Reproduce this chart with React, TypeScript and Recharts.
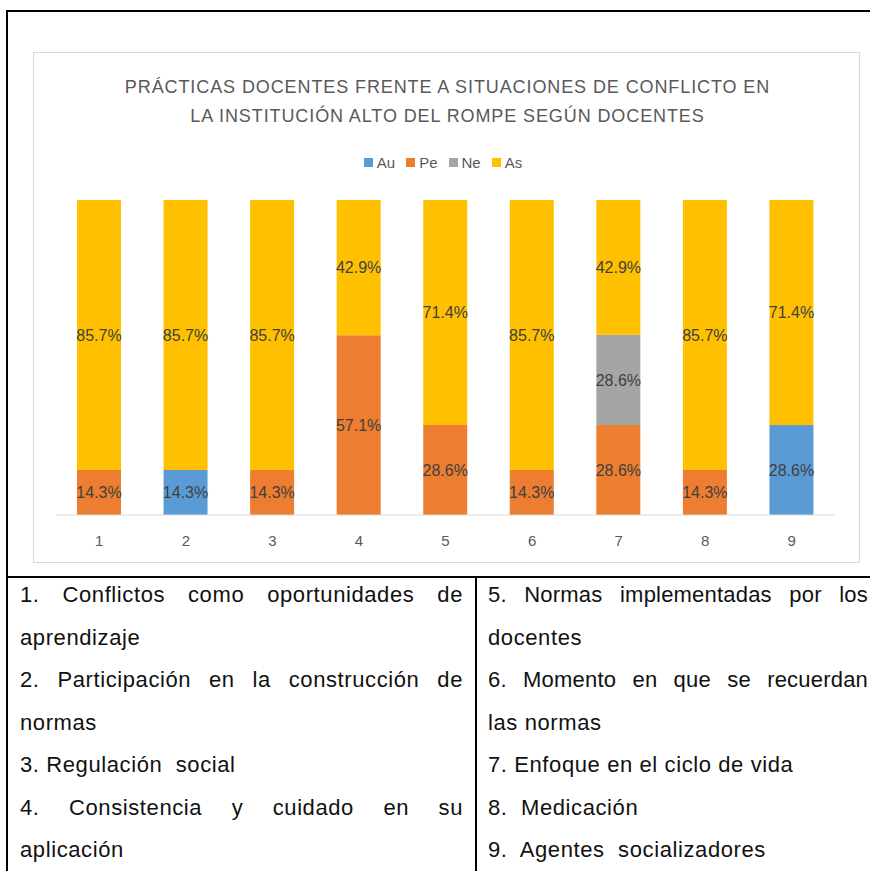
import React from 'react';
import { BarChart, Bar, XAxis, YAxis, Legend, LabelList } from 'recharts';

const categories = ['1', '2', '3', '4', '5', '6', '7', '8', '9'];
const auValues = [null, 14.3, null, null, null, null, null, null, 28.6];
const peValues = [14.3, null, 14.3, 57.1, 28.6, 14.3, 28.6, 14.3, null];
const neValues = [null, null, null, null, null, null, 28.6, null, null];
const asValues = [85.7, 85.7, 85.7, 42.9, 71.4, 85.7, 42.9, 85.7, 71.4];

const titleLines = [
  'PRÁCTICAS DOCENTES FRENTE A SITUACIONES DE CONFLICTO EN',
  'LA INSTITUCIÓN ALTO DEL ROMPE SEGÚN DOCENTES',
];

const leftLines = [
  { text: '1.  Conflictos  como  oportunidades  de', justify: true },
  { text: 'aprendizaje', justify: false },
  { text: '2.  Participación  en  la  construcción  de', justify: true },
  { text: 'normas', justify: false },
  { text: '3. Regulación  social', justify: false },
  { text: '4.  Consistencia  y  cuidado  en  su', justify: true },
  { text: 'aplicación', justify: false },
];
const rightLines = [
  { text: '5. Normas implementadas  por los', justify: true },
  { text: 'docentes', justify: false },
  { text: '6.  Momento  en  que  se  recuerdan', justify: true },
  { text: 'las normas', justify: false },
  { text: '7. Enfoque en el ciclo de vida', justify: false },
  { text: '8.  Medicación', justify: false },
  { text: '9.  Agentes  socializadores', justify: false },
];

const series = [
  { key: 'Au', color: '#5B9BD5' },
  { key: 'Pe', color: '#ED7D31' },
  { key: 'Ne', color: '#A5A5A5' },
  { key: 'As', color: '#FFC000' },
];

const data = categories.map((c, i) => ({
  name: c,
  Au: auValues[i],
  Pe: peValues[i],
  Ne: neValues[i],
  As: asValues[i],
}));

const fmt = (v: any) => (v == null || v === 0 ? '' : `${Number(v).toFixed(1)}%`);

const font = '"Liberation Sans", Arial, sans-serif';

const renderLegend = () => (
  <div style={{ display: 'flex', justifyContent: 'center', alignItems: 'center', fontSize: 15, fontFamily: font, color: '#595959', height: 20, paddingLeft: 4 }}>
    {series.map((s) => (
      <div key={s.key} style={{ display: 'flex', alignItems: 'center', marginRight: 11 }}>
        <span style={{ display: 'inline-block', width: 9, height: 9, background: s.color, marginRight: 4 }} />
        <span>{s.key}</span>
      </div>
    ))}
  </div>
);

export default function App() {
  const lineTop = 582;
  const lineStep = 42.5;
  return (
    <div style={{ position: 'absolute', left: 0, top: 0, width: 870, height: 871, overflow: 'hidden', background: '#fff', fontFamily: font }}>
      {/* outer lines */}
      <div style={{ position: 'absolute', left: 6, top: 10, width: 880, height: 2, background: '#000' }} />
      <div style={{ position: 'absolute', left: 6, top: 10, width: 2, height: 880, background: '#000' }} />
      <div style={{ position: 'absolute', left: 6, top: 576, width: 880, height: 2, background: '#000' }} />
      <div style={{ position: 'absolute', left: 475, top: 576, width: 2, height: 300, background: '#000' }} />

      {/* chart frame */}
      <div style={{ position: 'absolute', left: 33, top: 52, width: 827, height: 511, border: '1px solid #d9d9d9', boxSizing: 'border-box' }}>
        {titleLines.map((t, i) => (
          <div key={i} style={{ position: 'absolute', left: 0, width: 827, top: 22 + i * 29, textAlign: 'center', fontSize: 18, letterSpacing: 0.9, color: '#595959', lineHeight: '24px', whiteSpace: 'nowrap' }}>
            {t}
          </div>
        ))}
        <div style={{ position: 'absolute', left: -1, top: -1 }}>
          <BarChart width={827} height={511} data={data} margin={{ top: 128, right: 25, left: 23, bottom: 18 }} barSize={44}>
            <XAxis dataKey="name" tickLine={false} axisLine={{ stroke: '#d9d9d9' }} tick={{ fill: '#595959', fontSize: 15, fontFamily: font }} tickMargin={14} height={30} />
            <YAxis hide domain={[0, 100]} allowDataOverflow />
            <Legend
              verticalAlign="top"
              align="center"
              height={20}
              content={renderLegend}
              wrapperStyle={{ top: 100, left: 0, width: 827 }}
            />
            {series.map((s) => (
              <Bar key={s.key} dataKey={s.key} stackId="a" fill={s.color} isAnimationActive={false}>
                <LabelList dataKey={s.key} position="center" formatter={fmt} fill="#404040" fontSize={16} fontFamily={font} />
              </Bar>
            ))}
          </BarChart>
        </div>
      </div>

      {/* table text */}
      {leftLines.map((l, i) => (
        <div key={'l' + i} style={{ position: 'absolute', left: 20, width: 443, top: lineTop + i * lineStep, fontSize: 22, lineHeight: '26px', color: '#111', whiteSpace: 'pre', textAlign: l.justify ? 'justify' : 'left', textAlignLast: l.justify ? 'justify' : 'left', letterSpacing: 0.6 } as any}>
          {l.text}
        </div>
      ))}
      {rightLines.map((l, i) => (
        <div key={'r' + i} style={{ position: 'absolute', left: 488, width: 380, top: lineTop + i * lineStep, fontSize: 22, lineHeight: '26px', color: '#111', whiteSpace: l.justify ? 'normal' : 'pre', textAlign: l.justify ? 'justify' : 'left', textAlignLast: l.justify ? 'justify' : 'left', letterSpacing: l.justify ? 0.2 : 0.6 } as any}>
          {l.text}
        </div>
      ))}
    </div>
  );
}
